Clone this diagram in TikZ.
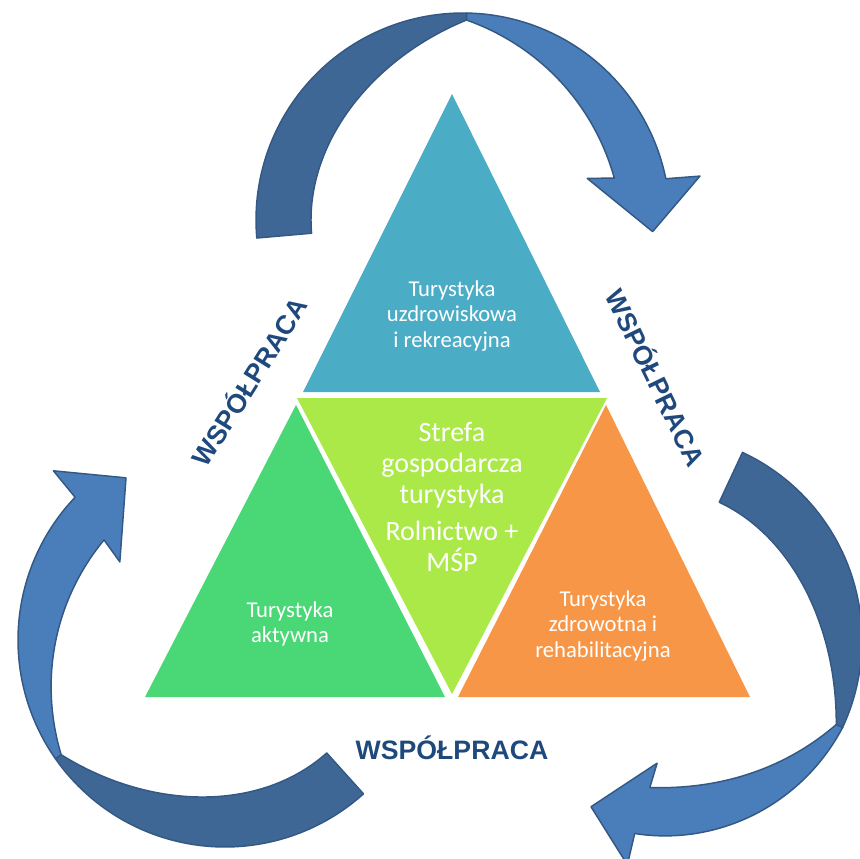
\documentclass[tikz,border=0pt]{standalone}
\usepackage{fontspec}
\setmainfont{Carlito}
\newfontfamily\wspfont{Liberation Sans}
\usepackage{tikz}
\usetikzlibrary{positioning, calc}
\definecolor{tritopaqua}    {RGB}{75, 172, 198}
\definecolor{trimidlime}    {RGB}{170, 233, 72}
\definecolor{trileftgreen}  {RGB}{74, 216, 118}
\definecolor{trirightorange}{RGB}{247, 150, 70}
\definecolor{arrowdarkblue} {RGB}{63, 103, 150}
\definecolor{arrowlightblue}{RGB}{74, 126, 187}
\definecolor{arrowedge}     {RGB}{52, 88, 132}
\definecolor{wsptext}       {RGB}{31, 73, 125}

\tikzset{
	tritext/.style={text=white, align=center, font=\fontsize{17}{19}\selectfont},
	wsplabel/.style={text=wsptext, font=\wspfont\bfseries\fontsize{20}{24}\selectfont},
	tailband/.style={fill=arrowdarkblue, draw=arrowedge, line width=1.1pt, line join=round},
	headband/.style={fill=arrowlightblue, draw=arrowedge, line width=1.1pt, line join=round},
}

% curved arrow: centre #1,#2, tail angle #3, twist angle #4, head angle #5, head scale #6
\newcommand{\coparrow}[6]{%
	\pgfmathsetmacro\cpInNotch{#5-2}
	\pgfmathsetmacro\cpOutNotch{#5+2}
	\filldraw[tailband] plot[domain=#3:#4,samples=60] ({#1+207*cos(\x)},{#2+207*sin(\x)})
		-- plot[domain=#4:#3,samples=60] ({#1+tailr((\x-#3)/(#4-#3))*cos(\x)},{#2+tailr((\x-#3)/(#4-#3))*sin(\x)})
		-- cycle;
	\filldraw[headband] plot[domain=#4:\cpOutNotch,samples=60] ({#1+outr((\x-#4)/(\cpOutNotch-#4),#6)*cos(\x)},{#2+outr((\x-#4)/(\cpOutNotch-#4),#6)*sin(\x)})
		-- ({#1+241*#6*cos(#5+3)},{#2+241*#6*sin(#5+3)})
		-- ({#1+190*#6*cos(#5+17)},{#2+190*#6*sin(#5+17)})
		-- ({#1+131*#6*cos(#5-5)},{#2+131*#6*sin(#5-5)})
		-- plot[domain=\cpInNotch:#4,samples=60] ({#1+headr((\x-\cpInNotch)/(#4-\cpInNotch),#6)*cos(\x)},{#2+headr((\x-\cpInNotch)/(#4-\cpInNotch),#6)*sin(\x)})
		-- cycle;
}

\begin{document}
\begin{tikzpicture}[x=0.75pt, y=-0.75pt,
	declare function={tailr(\u)=152+48*\u*\u*\u; outr(\u,\k)=207*(1-(1-\k)*\u); headr(\v,\k)=157*\k+(200-157*\k)*\v*\v;}]
	\useasboundingbox (0,0) rectangle (860,859);

	% arrows
	\coparrow{463}{220}{175}{271}{346.5}{1}
	\coparrow{225}{640}{48}{145}{221.6}{1}
	\coparrow{655}{640}{295}{385}{454}{0.94}

	% triangles
	\fill[tritopaqua] (452,94)--(303,392)--(600,392)--cycle;
	\fill[trimidlime] (297,398)--(607,398)--(452,694)--cycle;
	\fill[trileftgreen] (296,405)--(145,697)--(445,697)--cycle;
	\fill[trirightorange] (606,405)--(458,697)--(750,697)--cycle;

	\node[tritext] (uzdrow) at (452,316) {Turystyka\\uzdrowiskowa\\i rekreacyjna};
	\node[tritext, font=\fontsize{21}{23.5}\selectfont] (strefa) at (452,497) {Strefa\\gospodarcza\\turystyka\\[4pt]Rolnictwo +\\MŚP};
	\node[tritext] (aktyw) at (290,624) {Turystyka\\aktywna};
	\node[tritext] (zdrow) at (603,626) {Turystyka\\zdrowotna i\\rehabilitacyjna};

	\node[wsplabel, rotate=58] (wspleft) at (248,381) {WSPÓŁPRACA};
	\node[wsplabel, rotate=-64] (wspright) at (657,377) {WSPÓŁPRACA};
	\node[wsplabel] (wspbottom) at (452,748) {WSPÓŁPRACA};
\end{tikzpicture}
\end{document}
